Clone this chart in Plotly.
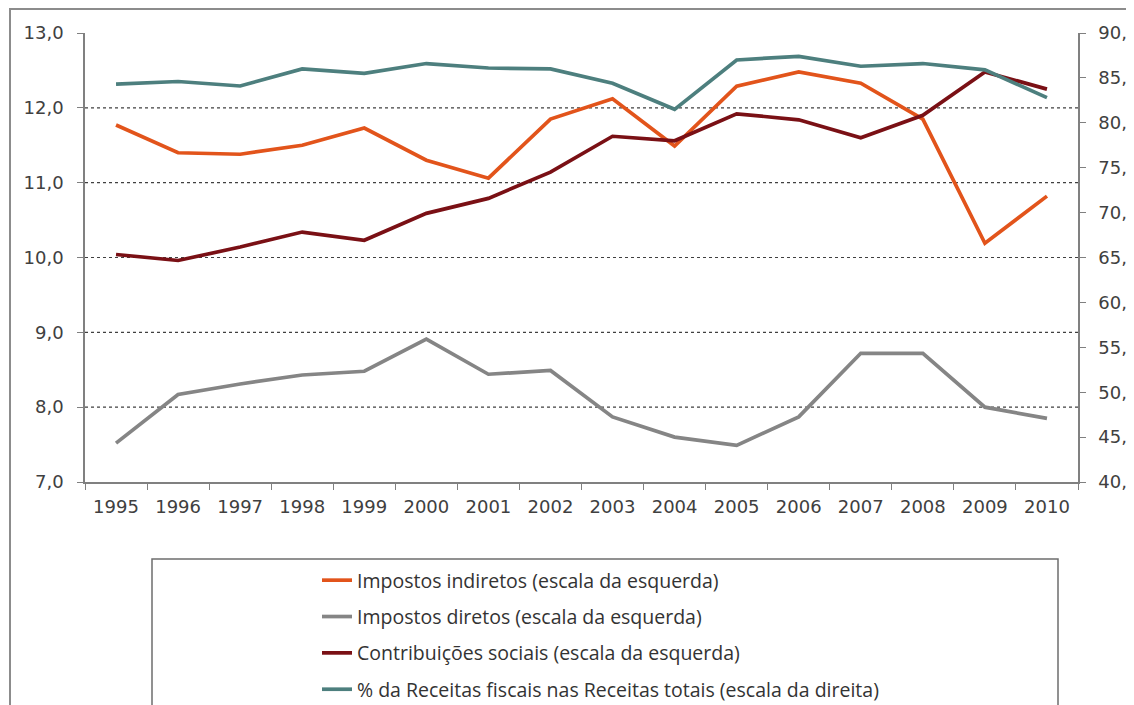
import plotly.graph_objects as go

years = [str(y) for y in range(1995, 2011)]

impostos_indiretos = [11.77, 11.40, 11.38, 11.50, 11.73, 11.30, 11.06, 11.85, 12.12, 11.49,
                      12.29, 12.48, 12.33, 11.85, 10.19, 10.82]
impostos_diretos = [7.52, 8.17, 8.31, 8.43, 8.48, 8.91, 8.44, 8.49, 7.87, 7.60,
                    7.49, 7.87, 8.72, 8.72, 8.00, 7.85]
contribuicoes = [10.04, 9.96, 10.14, 10.34, 10.23, 10.59, 10.79, 11.14, 11.62, 11.56,
                 11.92, 11.84, 11.60, 11.90, 12.48, 12.25]
receitas_fiscais = [84.3, 84.6, 84.1, 86.0, 85.5, 86.6, 86.1, 86.0, 84.4, 81.5,
                    87.0, 87.4, 86.3, 86.6, 85.9, 82.8]

names = [
    "Impostos indiretos (escala da esquerda)",
    "Impostos diretos (escala da esquerda)",
    "Contribuições sociais (escala da esquerda)",
    "% da Receitas fiscais nas Receitas totais (escala da direita)",
]
colors = ["#E2541B", "#858585", "#7A1015", "#4D7F7E"]

left_ticks = [7, 8, 9, 10, 11, 12, 13]
grid_vals = [8, 9, 10, 11, 12]
right_ticks = [40, 45, 50, 55, 60, 65, 70, 75, 80, 85, 90]

fig = go.Figure()
series = [impostos_indiretos, impostos_diretos, contribuicoes]
for i, s in enumerate(series):
    fig.add_trace(go.Scatter(x=years, y=s, mode="lines", name=names[i],
                             line=dict(color=colors[i], width=3.7),
                             legendgroup=str(i), yaxis="y"))
fig.add_trace(go.Scatter(x=years, y=receitas_fiscais, mode="lines", name=names[3],
                         line=dict(color=colors[3], width=3.7),
                         legendgroup="3", yaxis="y2"))

# page body has an 8px margin; positions below are page pixels
OFF = 8
W, H = 1134, 705 - OFF
L, R, T, B = 85, 1078, 33, 482
def px_x(p):
    return (p - L) / (R - L)
def px_y(p):
    return (B - p) / (B - T)

shapes = []
for g in grid_vals:
    shapes.append(dict(type="line", xref="paper", yref="y", x0=0, x1=1, y0=g, y1=g,
                       line=dict(color="#404040", width=1.2, dash="dot"), layer="below"))
# outer chart border
shapes.append(dict(type="rect", xref="paper", yref="paper",
                   x0=px_x(10), x1=px_x(1150), y0=px_y(720), y1=px_y(9),
                   line=dict(color="#8C8C8C", width=2), layer="below"))
# legend box
shapes.append(dict(type="rect", xref="paper", yref="paper",
                   x0=px_x(152), x1=px_x(1058), y0=px_y(720), y1=px_y(559),
                   line=dict(color="#6E6E6E", width=1.5), layer="below"))

tickfont = dict(family="DejaVu Sans", size=18, color="#404040")

fig.update_layout(
    width=W, height=H,
    margin=dict(l=L - OFF, r=OFF + W - R, t=T - OFF, b=OFF + H - B, autoexpand=False),
    paper_bgcolor="white", plot_bgcolor="white",
    separators=",.",
    showlegend=True,
    legend=dict(x=px_x(317), y=px_y(561), xanchor="left", yanchor="top",
                bgcolor="rgba(0,0,0,0)", borderwidth=0,
                font=dict(family="Open Sans", size=19.5, color="#333333"),
                tracegroupgap=8, itemwidth=30),
    xaxis=dict(type="category", showgrid=False, showline=True, linecolor="#808080",
               linewidth=1.5, ticks="outside", ticklen=6, tickcolor="#808080",
               tickson="boundaries", tickfont=tickfont, ticklabelstandoff=8,
               range=[-0.5, 15.5], automargin=False),
    yaxis=dict(range=[7, 13], tickvals=left_ticks, tickformat=".1f", showgrid=False,
               showline=True, linecolor="#808080", linewidth=1.5, ticks="outside",
               ticklen=6, tickcolor="#808080", tickfont=tickfont, zeroline=False,
               ticklabelstandoff=10, automargin=False),
    yaxis2=dict(range=[40, 90], tickvals=right_ticks, tickformat=".1f", overlaying="y",
                side="right", showgrid=False, showline=True, linecolor="#808080",
                linewidth=1.5, ticks="outside", ticklen=6, tickcolor="#808080",
                tickfont=tickfont, zeroline=False, ticklabelstandoff=9,
                automargin=False),
    shapes=shapes,
)

fig.write_html("out.html")
